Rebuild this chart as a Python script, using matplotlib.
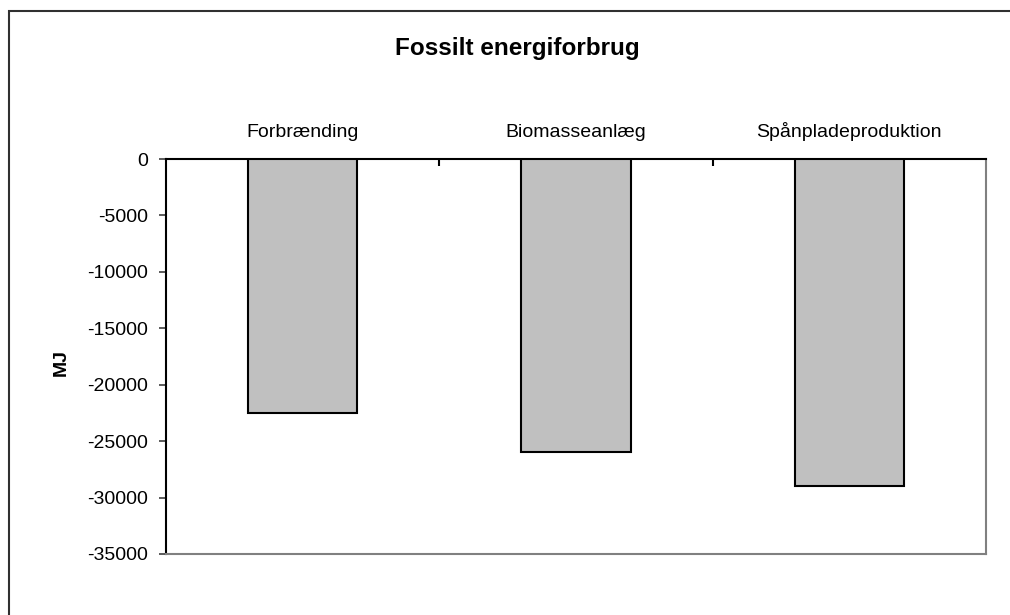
import matplotlib
matplotlib.use("Agg")
import matplotlib.pyplot as plt
from matplotlib.patches import Rectangle
import numpy as np

categories = ["Forbrænding", "Biomasseanlæg", "Spånpladeproduktion"]
values = [-22500, -26000, -29000]
yticks = [0, -5000, -10000, -15000, -20000, -25000, -30000, -35000]
title = "Fossilt energiforbrug"
ylabel = "MJ"

plt.rcParams['font.family'] = ['Liberation Sans', 'DejaVu Sans']

W, H = 1010, 615
fig = plt.figure(figsize=(W / 100, H / 100), dpi=100)
ax = fig.add_axes([166 / W, 1 - 554 / H, (986 - 166) / W, (554 - 159) / H])

x = np.arange(len(categories))
ax.bar(x, values, width=0.40, color="#C0C0C0", edgecolor="black", linewidth=1.5, zorder=3)

ax.set_xlim(-0.5, len(categories) - 0.5)
ax.set_ylim(-35000, 0)
ax.set_yticks(yticks)
ax.set_yticklabels([str(v) for v in yticks], fontsize=14)
ax.tick_params(axis="y", direction="out", length=5, width=1.2, color="#404040", pad=8)

ax.set_xticks(x)
ax.set_xticklabels(categories, fontsize=14)
ax.xaxis.set_ticks_position("top")
ax.tick_params(axis="x", which="major", length=0, pad=13, labeltop=True, labelbottom=False)
ax.set_xticks([0.5, 1.5], minor=True)
ax.tick_params(axis="x", which="minor", direction="in", length=5, width=1.5, color="black", top=True, bottom=False)

ax.spines["left"].set_color("black")
ax.spines["left"].set_linewidth(1.5)
ax.spines["top"].set_color("black")
ax.spines["top"].set_linewidth(1.5)
ax.spines["right"].set_color("#808080")
ax.spines["right"].set_linewidth(1.5)
ax.spines["bottom"].set_color("#808080")
ax.spines["bottom"].set_linewidth(1.5)

fig.text(517 / W, 1 - 48 / H, title, ha="center", va="center", fontsize=17.5, fontweight="bold")
fig.text(61 / W, 1 - 363 / H, ylabel, ha="center", va="center", rotation=90, fontsize=14, fontweight="bold")

fig.add_artist(Rectangle((8.5 / W, -0.1), 1.5, 1.1 - 10.5 / H, transform=fig.transFigure,
                         fill=False, edgecolor="#303030", linewidth=1.5, clip_on=False))

fig.savefig("out.png", dpi=100)
